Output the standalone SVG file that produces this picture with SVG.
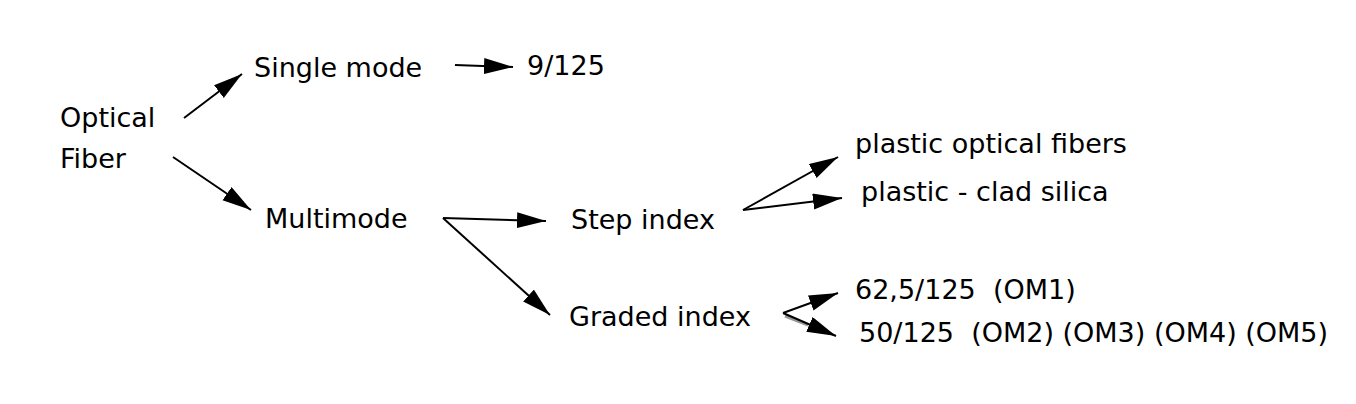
<svg xmlns="http://www.w3.org/2000/svg" width="1356" height="404" viewBox="0 0 1356 404">
<style>
text{font-family:"DejaVu Sans","Liberation Sans",sans-serif;font-size:27px;fill:#000;white-space:pre}
.c{stroke:#000;stroke-width:2;fill:none;marker-end:url(#ah)}
.sh{stroke:#999;stroke-width:3;fill:none}
</style>
<defs>
<marker id="ah" markerUnits="userSpaceOnUse" markerWidth="32" markerHeight="18" refX="29" refY="8" orient="auto">
<path d="M0,0 L29,8 L0,16 z" fill="#000"/>
</marker>
</defs>
<rect width="1356" height="404" fill="#fff"/>
<g id="n-optical"><text x="60" y="127">Optical</text><text x="60" y="168">Fiber</text></g>
<g id="n-single"><text x="254" y="77">Single mode</text></g>
<g id="n-9125"><text x="527" y="75">9/125</text></g>
<g id="n-multi"><text x="265" y="228">Multimode</text></g>
<g id="n-step"><text x="571" y="229">Step index</text></g>
<g id="n-graded"><text x="569" y="326">Graded index</text></g>
<g id="n-pof"><text x="855" y="153">plastic optical fibers</text></g>
<g id="n-pcs"><text x="861" y="201">plastic - clad silica</text></g>
<g id="n-om1"><text x="855" y="299" xml:space="preserve">62,5/125  (OM1)</text></g>
<g id="n-om2"><text x="859" y="342" xml:space="preserve">50/125  (OM2) (OM3) (OM4) (OM5)</text></g>
<g id="connectors">
<line class="c" x1="184" y1="118" x2="242" y2="74"/>
<line class="c" x1="173" y1="157" x2="251" y2="210"/>
<line class="c" x1="455" y1="65" x2="513" y2="67"/>
<line class="c" x1="443" y1="218" x2="546" y2="221"/>
<line class="c" x1="443" y1="218" x2="550" y2="315"/>
<line class="c" x1="743" y1="210" x2="838" y2="157"/>
<line class="c" x1="743" y1="210" x2="842" y2="198"/>
<line class="sh" x1="785" y1="316" x2="808" y2="325"/>
<line class="c" x1="783" y1="313" x2="838" y2="293"/>
<line class="c" x1="783" y1="313" x2="836" y2="336"/>
</g>
</svg>
